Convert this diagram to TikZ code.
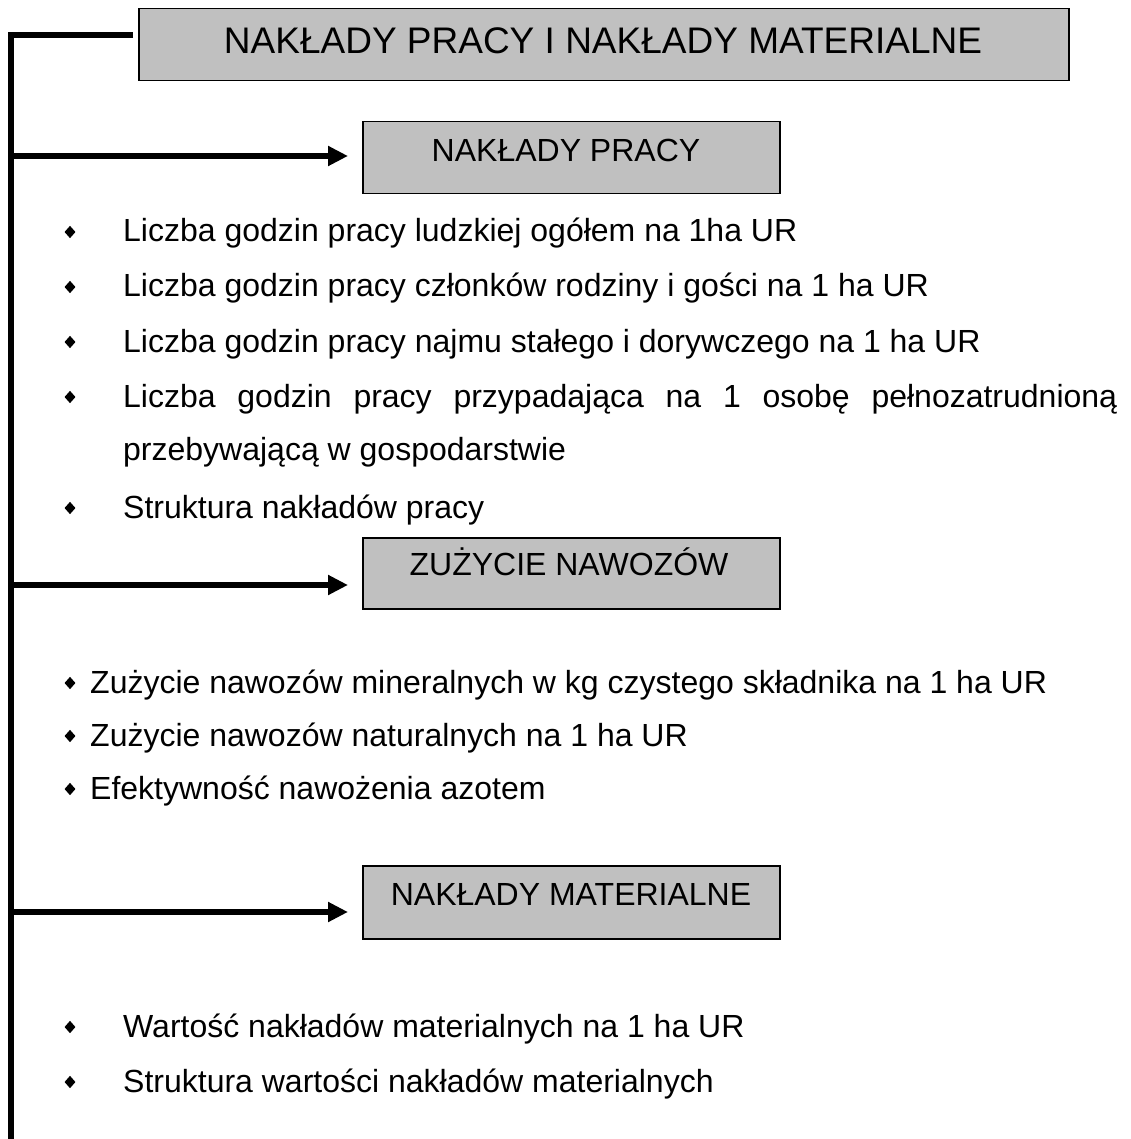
\documentclass[tikz,border=0pt]{standalone}
\usepackage{fontspec}
\setmainfont{Liberation Sans}
\usetikzlibrary{arrows.meta,shapes.geometric}
\definecolor{boxgray}{HTML}{C0C0C0}
\begin{document}
\begin{tikzpicture}[x=1pt,y=-1pt,
  box/.style={draw=black,line width=1.5pt,fill=boxgray,inner sep=0pt,anchor=north west},
  hdrbig/.style={inner sep=0pt,anchor=base,font=\fontsize{37}{44}\selectfont},
  hdr/.style={inner sep=0pt,anchor=base,font=\fontsize{32}{38}\selectfont},
  item/.style={inner sep=0pt,anchor=base west,font=\fontsize{32}{38}\selectfont},
  dot/.style={diamond,fill=black,inner sep=0pt,minimum width=11pt,minimum height=12.5pt},
  spine/.style={line width=6pt},
  arr/.style={line width=6pt,-{Triangle[length=20pt,width=19pt]},shorten >=14pt}]
\useasboundingbox (0,0) rectangle (1130,1139);

% boxes
\node[box,minimum width=930pt,minimum height=72pt] (title) at (138,8) {};
\node[hdrbig] (titletext) at (603,53.3) {NAKŁADY PRACY I NAKŁADY MATERIALNE};

\node[box,minimum width=417pt,minimum height=72pt] (b1) at (362,121) {};
\node[hdr] (b1text) at (566,161.7) {NAKŁADY PRACY};

\node[box,minimum width=417pt,minimum height=71pt] (b2) at (362,537) {};
\node[hdr] (b2text) at (569,575) {ZUŻYCIE NAWOZÓW};

\node[box,minimum width=417pt,minimum height=73pt] (b3) at (362,865) {};
\node[hdr] (b3text) at (571,905) {NAKŁADY MATERIALNE};

% spine and connectors
\coordinate (tap) at (133,35);
\coordinate (spinetop) at (11,35);
\coordinate (spinebot) at (11,1145);
\coordinate (s1) at (11,156);
\coordinate (s2) at (11,585);
\coordinate (s3) at (11,912);
\draw[spine] (tap) -- (spinetop) -- (spinebot);
\draw[arr] (s1) -- (s1 -| b1.west);
\draw[arr] (s2) -- (s2 -| b2.west);
\draw[arr] (s3) -- (s3 -| b3.west);

% section 1 items
\node[dot] (d1) at (70,232) {};
\node[item] (t1) at (123,242) {Liczba godzin pracy ludzkiej ogółem na 1ha UR};
\node[dot] (d2) at (70,287) {};
\node[item] (t2) at (123,297) {Liczba godzin pracy członków rodziny i gości na 1 ha UR};
\node[dot] (d3) at (70,342) {};
\node[item] (t3) at (123,352) {Liczba godzin pracy najmu stałego i dorywczego na 1 ha UR};
\node[dot] (d4) at (70,397) {};
\node[item] (t4) at (123,407) {\makebox[994pt][s]{Liczba godzin pracy przypadająca na 1 osobę pełnozatrudnioną}};
\node[item] (t4b) at (123,460) {przebywającą w gospodarstwie};
\node[dot] (d5) at (70,508) {};
\node[item] (t5) at (123,518) {Struktura nakładów pracy};

% section 2 items
\node[dot] (d6) at (70,683) {};
\node[item] (t6) at (90,693) {Zużycie nawozów mineralnych w kg czystego składnika na 1 ha UR};
\node[dot] (d7) at (70,736) {};
\node[item] (t7) at (90,746) {Zużycie nawozów naturalnych na 1 ha UR};
\node[dot] (d8) at (70,789) {};
\node[item] (t8) at (90,799) {Efektywność nawożenia azotem};

% section 3 items
\node[dot] (d9) at (70,1027) {};
\node[item] (t9) at (123,1037) {Wartość nakładów materialnych na 1 ha UR};
\node[dot] (d10) at (70,1082) {};
\node[item] (t10) at (123,1092) {Struktura wartości nakładów materialnych};
\end{tikzpicture}
\end{document}
